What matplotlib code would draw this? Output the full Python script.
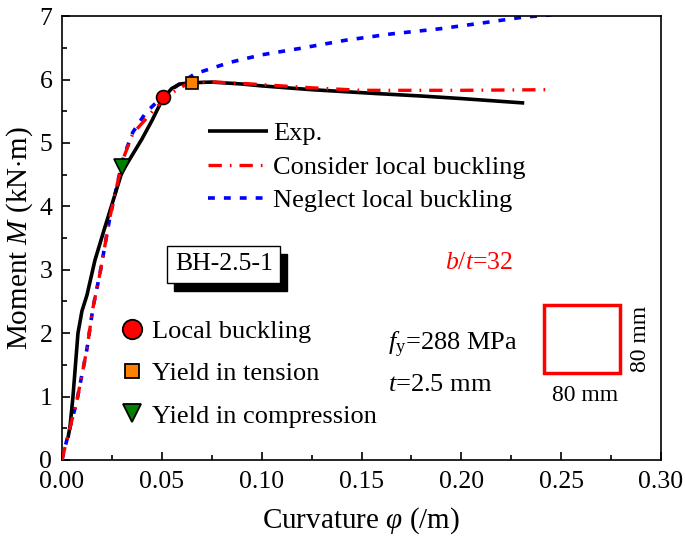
import numpy as np
import matplotlib
matplotlib.use("Agg")
import matplotlib.pyplot as plt
from matplotlib.lines import Line2D
from matplotlib.patches import Rectangle
from matplotlib import transforms

plt.rcParams['font.family'] = ['Liberation Serif', 'DejaVu Serif']
plt.rcParams['mathtext.fontset'] = 'custom'
plt.rcParams['mathtext.rm'] = 'Liberation Serif'
plt.rcParams['mathtext.it'] = 'Liberation Serif:italic'

# experiment
exp_phi = [0.003, 0.004, 0.0055, 0.008, 0.010, 0.0125, 0.0165, 0.021, 0.0255, 0.030,
           0.035, 0.040, 0.045, 0.0505, 0.055, 0.059, 0.065, 0.075, 0.090, 0.100,
           0.125, 0.157, 0.180, 0.200, 0.2315]
exp_m = [0.35, 0.52, 1.0, 2.0, 2.35, 2.6, 3.15, 3.62, 4.08, 4.54,
         4.80, 5.06, 5.35, 5.70, 5.86, 5.93, 5.95, 5.96, 5.93, 5.90,
         5.84, 5.78, 5.74, 5.70, 5.63]
# model considering local buckling
con_phi = [0.0, 0.0015, 0.0075, 0.0125, 0.0155, 0.019, 0.024, 0.028, 0.031, 0.0355,
           0.0415, 0.047, 0.0555, 0.062, 0.070, 0.076, 0.090, 0.100, 0.125, 0.150,
           0.200, 0.243]
con_m = [0.0, 0.2, 0.94, 1.75, 2.4, 2.94, 3.83, 4.40, 4.78, 5.15,
         5.36, 5.56, 5.80, 5.92, 5.96, 5.96, 5.94, 5.92, 5.87, 5.83,
         5.83, 5.84]
# model neglecting local buckling
neg_phi = [0.0, 0.0015, 0.0075, 0.0125, 0.0155, 0.019, 0.024, 0.028, 0.031, 0.0355,
           0.042, 0.050, 0.0575, 0.0665, 0.084, 0.100, 0.119, 0.142, 0.165, 0.189,
           0.210, 0.230, 0.245]
neg_m = [0.0, 0.2, 0.94, 1.75, 2.4, 2.94, 3.83, 4.40, 4.80, 5.17,
         5.48, 5.72, 5.90, 6.09, 6.27, 6.39, 6.49, 6.62, 6.72, 6.80,
         6.89, 6.98, 7.02]

# characteristic points
buck_pt = (0.0505, 5.73)
tens_pt = (0.065, 5.94)
comp_pt = (0.030, 4.62)

fig = plt.figure(figsize=(6.85, 5.38), dpi=100)
ax = fig.add_axes([0.0905, 0.145, 0.8745, 0.825])

l1, = ax.plot(exp_phi, exp_m, color='black', lw=2.6, solid_capstyle='butt', zorder=3)
l2, = ax.plot(con_phi, con_m, color='red', lw=2.4, dashes=(4.0, 2.4, 0.5, 2.4), zorder=4)
l3, = ax.plot(neg_phi, neg_m, color='blue', lw=2.6, dashes=(1.9, 2.5), zorder=2)

ax.plot(*buck_pt, 'o', ms=10, mfc='red', mec='black', mew=1.2, zorder=6)
ax.plot(*tens_pt, 's', ms=8.5, mfc='#FF8000', mec='black', mew=1.2, zorder=6)
ax.plot(*comp_pt, 'v', ms=11, mfc='#008000', mec='black', mew=1.2, zorder=6)

ax.set_xlim(0, 0.30)
ax.set_ylim(0, 7)
ax.set_xticks(np.arange(0, 0.301, 0.05))
ax.set_xticks(np.arange(0.025, 0.3, 0.05), minor=True)
ax.set_yticks(np.arange(0, 7.1, 1))
ax.set_yticks(np.arange(0.5, 7, 1), minor=True)
ax.set_xticklabels(['%.2f' % v for v in np.arange(0, 0.301, 0.05)])
ax.tick_params(direction='in', which='major', length=6, width=1.2, labelsize=18.5)
ax.tick_params(axis='x', which='major', pad=8)
ax.tick_params(axis='y', which='major', pad=7)
ax.tick_params(direction='in', which='minor', length=3.5, width=1.2)
for s in ax.spines.values():
    s.set_linewidth(1.2)

ax.set_xlabel(r'Curvature $\varphi$ (/m)', fontsize=21, labelpad=9)
ax.set_ylabel(r'Moment $M$ (kN$\cdot$m)', fontsize=21, labelpad=3)

leg1 = ax.legend([l1, l2, l3], ['Exp.', 'Consider local buckling', 'Neglect local buckling'],
                 loc='upper left', bbox_to_anchor=(0.244, 0.762), frameon=False,
                 borderpad=0, borderaxespad=0,
                 fontsize=19, handlelength=2.25, handletextpad=0.2, labelspacing=0.38)
ax.add_artist(leg1)

h1 = Line2D([], [], ls='none', marker='o', ms=14, mfc='red', mec='black', mew=1.3)
h2 = Line2D([], [], ls='none', marker='s', ms=10, mfc='#FF8000', mec='black', mew=1.3)
h3 = Line2D([], [], ls='none', marker='v', ms=13, mfc='#008000', mec='black', mew=1.3)
ax.legend([h1, h2, h3], ['Local buckling', 'Yield in tension', 'Yield in compression'],
          loc='upper left', bbox_to_anchor=(0.095, 0.317), frameon=False,
          borderpad=0, borderaxespad=0,
          fontsize=19, handlelength=1.0, handletextpad=0.25, labelspacing=0.72)

# specimen label with shadow
shadow = transforms.offset_copy(ax.transAxes, fig=fig, x=5, y=-6, units='points')
ax.text(0.270, 0.441, 'BH-2.5-1', transform=shadow, fontsize=18.5, ha='center', va='center',
        color='black', bbox=dict(boxstyle='square,pad=0.3', fc='black', ec='black'), zorder=7)
ax.text(0.270, 0.441, 'BH-2.5-1', transform=ax.transAxes, fontsize=18.5, ha='center', va='center',
        bbox=dict(boxstyle='square,pad=0.3', fc='white', ec='black', lw=1.0), zorder=8)

ax.text(0.697, 0.443, r'$b/t$=32', transform=ax.transAxes, fontsize=18.5, color='red',
        ha='center', va='center')
ax.text(0.544, 0.259, r'$f_\mathrm{y}$=288 MPa', transform=ax.transAxes, fontsize=19,
        ha='left', va='center')
ax.text(0.544, 0.169, r'$t$=2.5 mm', transform=ax.transAxes, fontsize=19,
        ha='left', va='center')

ax.add_patch(Rectangle((0.804, 0.197), 0.128, 0.152, transform=ax.transAxes,
                       fill=False, ec='red', lw=2.5, zorder=5))
ax.text(0.873, 0.146, '80 mm', transform=ax.transAxes, fontsize=17, ha='center', va='center')
ax.text(0.965, 0.273, '80 mm', transform=ax.transAxes, fontsize=17, ha='center', va='center',
        rotation=90)

fig.savefig('out.png', dpi=100)
